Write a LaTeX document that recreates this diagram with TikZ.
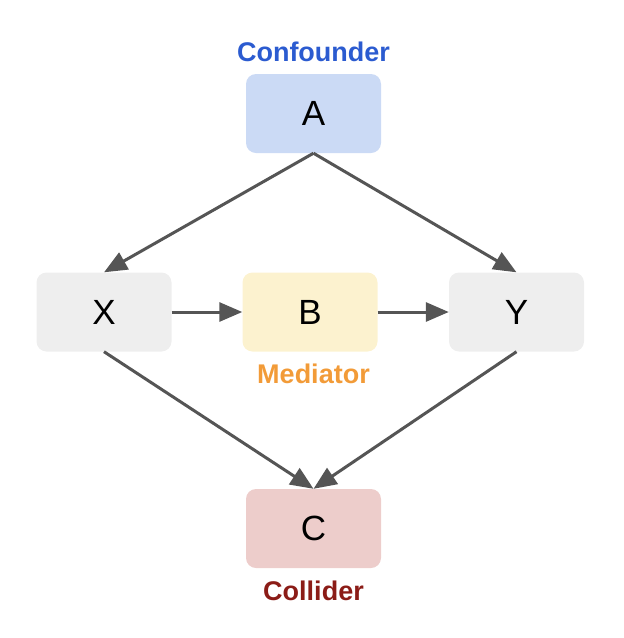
\documentclass[tikz,border=0pt]{standalone}
\usepackage{fontspec}
\setmainfont{Liberation Sans}
\usetikzlibrary{arrows.meta}
\definecolor{boxA}{HTML}{CBDAF5}
\definecolor{boxB}{HTML}{FCF2CF}
\definecolor{boxC}{HTML}{EDCDCB}
\definecolor{boxG}{HTML}{EEEEEE}
\definecolor{conf}{HTML}{2B5BD0}
\definecolor{medi}{HTML}{F29B38}
\definecolor{coll}{HTML}{8B1C17}
\definecolor{edge}{HTML}{555555}
\begin{document}
\begin{tikzpicture}[x=1pt,y=-1pt,
  box/.style={rounded corners=10pt, minimum width=135pt, minimum height=79pt, inner sep=0pt, font=\fontsize{35}{35}\selectfont},
  lbl/.style={anchor=base, inner sep=0pt, font=\fontsize{27}{27}\selectfont\bfseries},
  conn/.style={draw=edge, line width=3pt, -{Triangle[length=23pt,width=19pt]}}]
\useasboundingbox (0,0) rectangle (624,638);
\node[box, fill=boxA] (A) at (313.5,113.5) {A};
\node[box, fill=boxG] (X) at (104,312) {X};
\node[box, fill=boxB] (B) at (310,312) {B};
\node[box, fill=boxG] (Y) at (516.5,312) {Y};
\node[box, fill=boxC] (C) at (313.5,528.5) {C};
\node[lbl, text=conf] (lc) at (313.5,61.5) {Confounder};
\node[lbl, text=medi] (lm) at (313.5,383) {Mediator};
\node[lbl, text=coll] (ll) at (313.5,600) {Collider};
\draw[conn] (A.south) -- (X.north);
\draw[conn] (A.south) -- (Y.north);
\draw[conn] (X.east) -- (B.west);
\draw[conn] (B.east) -- (Y.west);
\draw[conn] (X.south) -- (C.north);
\draw[conn] (Y.south) -- (C.north);
\end{tikzpicture}
\end{document}
